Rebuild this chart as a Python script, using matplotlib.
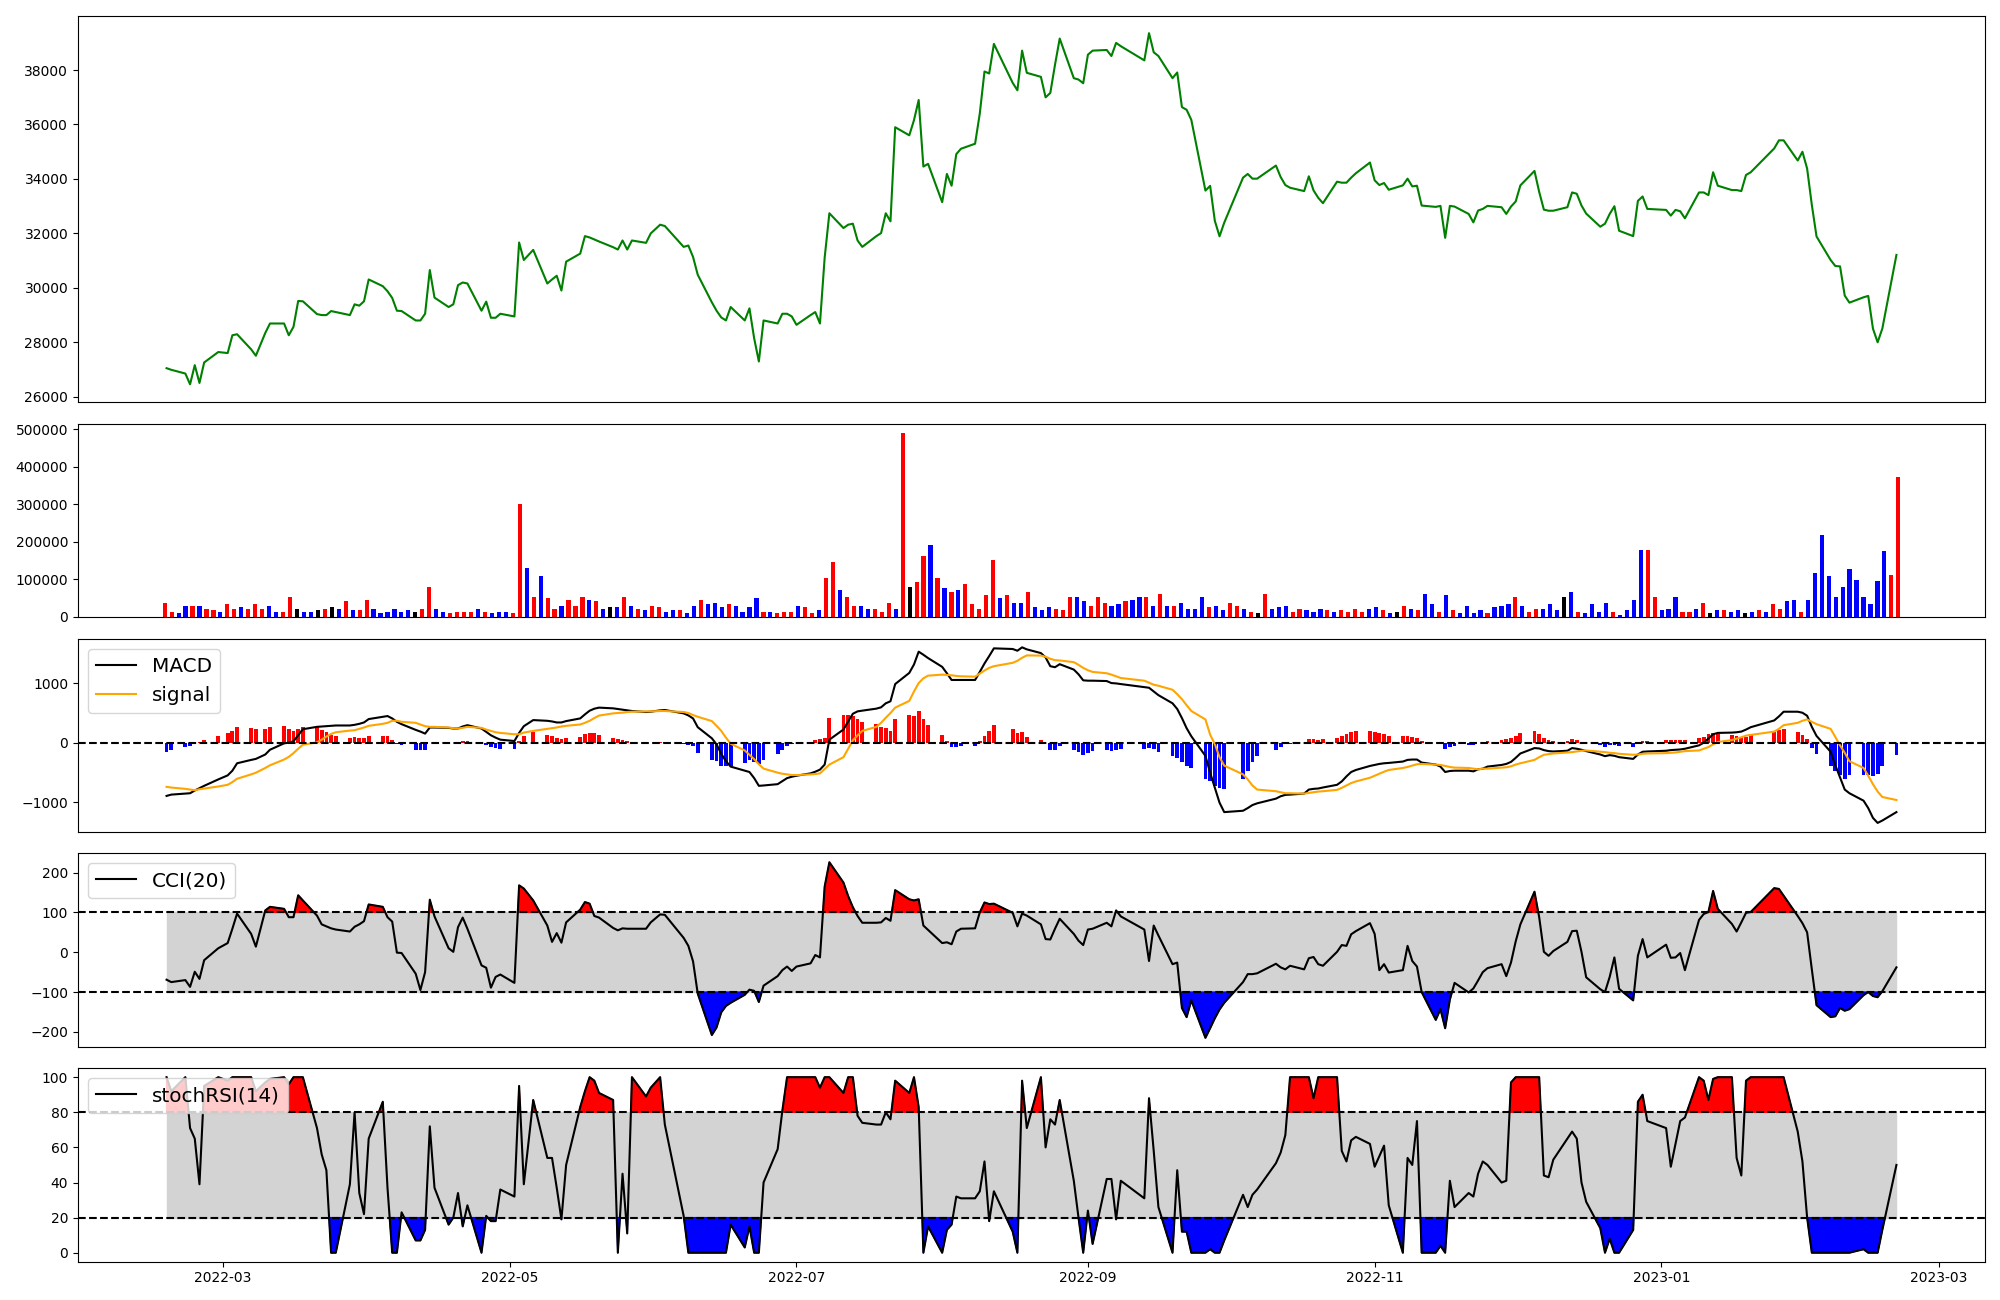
import numpy as np
import pandas as pd
import matplotlib
matplotlib.use("Agg")
import matplotlib.pyplot as plt
import matplotlib.dates as mdates

# ---------------- trading calendar ----------------
holidays = ["2022-03-01", "2022-03-09", "2022-05-05", "2022-06-01", "2022-06-06",
            "2022-08-15", "2022-09-09", "2022-09-12", "2022-10-03", "2022-10-10",
            "2022-12-30", "2023-01-23", "2023-01-24"]
dates = pd.bdate_range("2022-02-17", "2023-02-20")
dates = dates[~dates.isin(pd.to_datetime(holidays))]

# ---------------- data ----------------
close = [
    27045, 26986, 26848, 26453, 27157, 26502, 27255, 27638,
    27601, 28255, 28292, 27737, 27502, 28340, 28687, 28687, 28255, 28564, 29515, 29502,
    29033, 28996, 28996, 29144, 29107, 28996, 29391, 29342, 29502,
    30305, 30058, 29873, 29626, 29157, 29144, 28798, 28798, 29045, 30650, 29638, 29292,
    29391, 30095, 30194, 30157, 29157, 29490, 28897, 28897, 29045,
    28946, 31662, 31020, 31391, 30157, 30305, 30441, 29898, 30959, 31255, 31897, 31848,
    31774, 31700, 31490, 31404, 31737, 31404, 31737, 31650, 31996,
    32317, 32268, 31502, 31552, 31132, 30478, 29465, 29157, 28910, 28799, 29292, 28799,
    29243, 28144, 27292, 28799, 28687, 29045, 29045, 28947,
    28638, 28996, 29107, 28687, 31107, 32737, 32194, 32317, 32354, 31737, 31502, 31897,
    32008, 32737, 32441, 35898, 35601, 36157, 36897, 34453, 34552,
    33144, 34181, 33749, 34910, 35107, 35292, 36403, 37946, 37872, 38959, 37527, 37255,
    38712, 37897, 37749, 36996, 37157, 38193, 39156, 37700, 37650, 37514,
    38563, 38712, 38736, 38514, 38996, 38875, 38354, 39354, 38651, 38514, 37700, 37909,
    36637, 36539, 36168, 33570, 33743, 32459, 31891, 32391,
    34045, 34181, 34008, 34008, 34490, 34070, 33773, 33675, 33552, 34095, 33576, 33305,
    33107, 33897, 33860, 33860, 34045, 34206, 34601,
    33947, 33773, 33848, 33601, 33761, 34008, 33724, 33749, 33020, 32971, 33008, 31835,
    33008, 32983, 32712, 32403, 32836, 32897, 33008, 32959, 32712, 32983,
    33169, 33761, 34292, 33523, 32870, 32830, 32830, 32959, 33502, 33453, 33021, 32724,
    32243, 32354, 32712, 32996, 32095, 31897, 33193, 33354, 32897,
    32860, 32650, 32860, 32811, 32552, 33502, 33502, 33403, 34243, 33749, 33589, 33589,
    33552, 34144, 34243, 35119, 35416, 35416, 34675, 34996,
    34379, 33045, 31885, 31020, 30799, 30786, 29712, 29453, 29650, 29700, 28502, 27996,
    28502, 31206,
]

volume = [
    38000, 14000, 9000, 28000, 28000, 30000, 22000, 17000, 14000, 33000, 20000, 25000,
    20000, 33000, 22000, 30000, 12000, 14000, 54000, 22000, 12000, 14000, 17000, 20000,
    25000, 22000, 41000, 17000, 17000, 46000, 20000, 9000, 14000, 22000, 12000, 17000,
    12000, 22000, 78000, 22000, 12000, 9000, 14000, 14000, 14000, 22000, 12000, 9000,
    14000, 14000, 9000, 300000, 129000, 54000, 108000, 49000, 22000, 30000, 44000, 30000,
    52000, 46000, 41000,
    22000, 25000, 25000, 54000, 28000, 22000, 17000, 28000, 25000, 14000, 17000, 17000,
    9000, 28000, 44000, 33000, 38000, 25000, 33000, 30000, 12000, 25000, 49000, 14000,
    12000, 9000, 14000, 14000, 30000, 25000, 9000, 17000, 102000, 145000, 70000, 54000,
    30000, 30000, 22000, 20000, 12000, 36000, 22000, 490000, 78000, 92000, 161000, 190000,
    102000, 76000, 65000, 70000, 86000, 33000, 20000, 57000, 150000, 49000, 57000, 36000,
    36000, 65000, 25000,
    17000, 25000, 22000, 17000, 52000, 52000, 41000, 28000, 52000, 38000, 28000, 33000,
    41000, 44000, 52000, 54000, 30000, 60000, 28000, 30000, 38000, 20000, 22000, 52000,
    25000, 30000, 17000, 38000, 30000, 20000, 12000, 9000, 60000, 20000, 25000, 28000,
    14000, 20000, 17000, 14000, 20000, 17000, 12000, 17000, 14000, 22000, 14000, 20000,
    25000, 17000, 9000, 14000, 28000, 22000, 17000, 62000, 33000, 12000, 57000, 17000,
    9000, 30000, 9000, 17000,
    9000, 25000, 30000, 33000, 52000, 28000, 14000, 22000, 20000, 33000, 17000, 52000,
    65000, 12000, 9000, 33000, 12000, 36000, 12000, 6000, 17000, 44000, 177000, 177000,
    54000, 17000, 20000, 54000, 14000, 12000, 20000, 36000, 9000, 17000, 17000, 12000,
    17000, 9000, 12000, 17000, 14000, 33000, 22000, 41000, 46000, 14000, 46000, 116000,
    217000, 108000, 54000, 78000, 126000, 97000, 54000, 33000, 94000, 174000, 110000, 372000,
]

# U = close up, D = close down, N = unchanged (per trading day)
vol_move = (
    "UUDDUDUUDU" "UDUUUDDUUN" "DDNUNDUDUU" "DDDDDDNUUD" "DUUUUDUDDD" "UUDUDUUDUU" "UDU"
    "DNDUDUDUUD" "DUDDUDDDUD" "DDDUDUUUDU" "UDUUDUUDDU" "UUDUNUUDUD" "UDUUUUUDUD" "DUD"
    "DDUUUDDUUU" "DDUDDUDUDU" "DDDDUDDUUD" "UNUDDDUUDD" "DUDUUUUDDU" "DNUDUDDUDU" "DDDD"
    "UDDDUDUUDD" "DNDUDDDDUD" "DDDUUDDDUU" "DUNDUDDNDU" "DUUDDUDDDD" "DDDDDDDDUU"
)

macd = [
    -897, -875, -858, -852, -806, -767, -727, -619,
    -551, -472, -347, -290, -273, -199, -119, -11, 0, 23, 125, 227, 267, 273, 278, 284,
    290, 290, 301, 318, 341,
    398, 437, 449, 409, 352, 312, 216, 187, 153, 256, 256, 250, 239, 239, 273, 295, 239,
    182, 125, 85, 51,
    28, 165, 278, 381, 369, 358, 341, 341, 364, 409, 477, 539, 573, 591, 579, 568, 557,
    545, 534, 517, 522,
    545, 551, 494, 460, 409, 261, 74, -28, -188, -312, -403, -472, -494, -597, -727,
    -721, -699, -648, -597, -574,
    -557, -517, -489, -454, -369, 51, 222, 358, 488, 528, 540, 574, 596, 664, 698, 988,
    1176, 1318, 1534, 1482, 1426,
    1278, 1170, 1057, 1057, 1057, 1057, 1193, 1335, 1460, 1590, 1579, 1550, 1607, 1573,
    1510, 1437, 1289, 1272, 1323, 1232, 1153, 1051,
    1045, 1045, 1039, 1005, 999, 988, 937, 926, 863, 801, 664, 568, 415, 244, 108, -222,
    -506, -761, -1011, -1170,
    -1147, -1102, -1051, -1022, -943, -903, -880, -875, -858, -790, -778, -772, -755,
    -710, -653, -568, -494, -460, -392,
    -375, -358, -347, -341, -318, -290, -284, -284, -335, -369, -403, -494, -477, -472,
    -472, -483, -449, -438, -403, -375, -358, -324,
    -256, -182, -91, -97, -125, -142, -148, -136, -91, -102, -119, -142, -199, -227,
    -210, -221, -244, -273, -199, -153, -148,
    -136, -125, -119, -114, -102, -45, 0, 68, 142, 165, 170, 176, 187, 221, 261, 375,
    443, 522, 522, 505,
    454, 267, 114, -153, -380, -585, -790, -852, -977, -1102, -1267, -1352, -1312, -1170,
]

signal = [
    -744, -756, -778, -790, -801, -784, -773, -738,
    -710, -664, -608, -534, -506, -426, -381, -284, -239, -176, -102, -34, 6, 51, 102,
    148, 176, 204, 210, 233, 256,
    284, 318, 335, 369, 369, 352, 335, 307, 278, 267, 267, 256, 244, 239, 250, 267, 250,
    221, 199, 176, 165,
    142, 142, 170, 199, 233, 244, 256, 273, 284, 307, 335, 369, 415, 457, 494, 500, 506,
    517, 522, 528, 528,
    534, 534, 517, 500, 466, 437, 364, 284, 199, 85, -17, -131, -204, -278, -363, -437,
    -505, -523, -534, -545,
    -545, -534, -528, -517, -443, -369, -244, -102, 40, 125, 199, 267, 335, 420, 500,
    591, 704, 863, 1005, 1085, 1130,
    1147, 1142, 1136, 1125, 1119, 1113, 1164, 1216, 1261, 1289, 1346, 1380, 1431, 1471,
    1468, 1448, 1414, 1391, 1386, 1357, 1312, 1261,
    1221, 1193, 1170, 1147, 1119, 1090, 1045, 1011, 977, 960, 892, 818, 733, 631, 534,
    392, 136, -23, -244, -386,
    -534, -619, -721, -790, -818, -835, -852, -852, -858, -846, -835, -824, -818, -795,
    -761, -721, -681, -653, -591,
    -557, -522, -489, -460, -426, -409, -386, -363, -358, -369, -375, -392, -409, -420,
    -426, -437, -449, -438, -438, -420, -415, -398,
    -369, -347, -290, -244, -204, -193, -182, -165, -159, -148, -136, -131, -153, -159,
    -170, -176, -187, -204, -199, -187, -182,
    -176, -170, -165, -153, -142, -131, -102, -74, -28, 11, 45, 68, 91, 119, 131, 187,
    233, 295, 335, 369,
    392, 352, 312, 233, 97, -45, -170, -312, -426, -557, -699, -824, -915, -966,
]

cci = [
    -69, -75, -70, -87, -49, -67, -20, 10,
    23, 59, 97, 46, 14, 105, 114, 109, 88, 88, 143, 130, 92, 70, 65, 60, 57, 52, 64, 70, 78,
    120, 114, 88, 77, -1, -2, -54, -95, -50, 132, 90, 10, 1, 63, 87, 59, -33, -39, -89,
    -62, -56,
    -77, 168, 160, 130, 67, 26, 48, 24, 75, 107, 126, 122, 91, 87, 61, 55, 60, 59, 59, 59, 75,
    95, 94, 36, 16, -23, -104, -208, -189, -151, -135, -127, -107, -94, -97, -125, -84,
    -60, -45, -36, -47,
    -36, -28, -7, -13, 165, 226, 175, 141, 113, 91, 74, 74, 75, 86, 79, 156, 133, 130,
    133, 67, 56,
    23, 25, 20, 52, 59, 60, 100, 125, 121, 122, 99, 65, 97, 92, 70, 33, 32, 59, 84, 46, 29, 18,
    57, 59, 74, 65, 105, 90, 57, -22, 67, 42, -30, -26, -140, -163, -121, -215, -191,
    -166, -144, -127,
    -75, -55, -55, -53, -29, -38, -43, -34, -43, -15, -12, -30, -34, 1, 18, 16, 45, 53, 73,
    46, -45, -30, -51, -45, 16, -22, -36, -100, -170, -143, -191, -119, -77, -101, -91,
    -71, -50, -40, -30, -60, -26,
    27, 70, 152, 88, 1, -9, 3, 26, 53, 54, 1, -63, -93, -100, -62, -13, -92, -121, -9, 33, -13,
    19, -14, -13, -2, -45, 81, 96, 101, 154, 109, 71, 52, 75, 99, 101, 161, 159, 142, 91, 73,
    50, -43, -133, -163, -161, -140, -147, -143, -108, -100, -110, -113, -98, -38,
]

stoch_rsi = [
    100, 92, 100, 71, 65, 39, 95, 100,
    98, 100, 100, 100, 92, 97, 99, 100, 96, 100, 100, 100, 71, 56, 47, 0, 0, 39, 80, 34, 22,
    65, 86, 37, 0, 0, 23, 7, 7, 13, 72, 37, 16, 20, 34, 15, 27, 0, 21, 18, 18, 36,
    32, 95, 39, 87, 54, 54, 37, 19, 50, 83, 92, 100, 98, 91, 87, 0, 45, 11, 100, 89, 94,
    100, 73, 21, 0, 0, 0, 0, 0, 0, 0, 16, 3, 15, 0, 0, 40, 59, 81, 100, 100,
    100, 100, 100, 94, 100, 100, 91, 100, 100, 78, 74, 73, 73, 80, 76, 98, 91, 100, 83, 0, 15,
    0, 13, 16, 32, 31, 31, 35, 52, 18, 35, 12, 0, 98, 71, 100, 60, 76, 73, 87, 41, 20, 0,
    24, 5, 42, 42, 19, 41, 31, 88, 58, 26, 0, 47, 12, 12, 0, 0, 2, 0, 0, 7,
    33, 26, 33, 36, 51, 57, 67, 100, 100, 100, 88, 100, 100, 100, 58, 52, 64, 66, 62,
    49, 55, 61, 27, 0, 54, 50, 75, 0, 0, 4, 0, 41, 26, 34, 32, 45, 52, 50, 40, 41, 97,
    100, 100, 100, 100, 44, 43, 53, 65, 69, 65, 40, 29, 14, 0, 8, 0, 0, 13, 86, 90, 75,
    71, 49, 62, 75, 77, 100, 98, 87, 99, 100, 100, 54, 44, 98, 100, 100, 100, 100, 69, 52,
    20, 0, 0, 0, 0, 0, 0, 0, 2, 0, 0, 0, 13, 50,
]

# ---------------- derived ----------------
close = np.array(close, float)
volume = np.array(volume, float)
macd = np.array(macd, float)
signal = np.array(signal, float)
hist = macd - signal
cci = np.array(cci, float)
stoch_rsi = np.array(stoch_rsi, float)

move_color = {"U": "red", "D": "blue", "N": "black"}
vol_colors = [move_color[m] for m in vol_move]
hist_colors = ["red" if h >= 0 else "blue" for h in hist]

# ---------------- figure ----------------
fig = plt.figure(figsize=(20, 13), dpi=100)
gs = fig.add_gridspec(5, 1, height_ratios=[2, 1, 1, 1, 1], hspace=0.094,
                      left=0.039, right=0.9925, top=0.988, bottom=0.0296)
ax1 = fig.add_subplot(gs[0])
ax2 = fig.add_subplot(gs[1])           # volume drawn against the trading-day index
ax3 = fig.add_subplot(gs[2], sharex=ax1)
ax4 = fig.add_subplot(gs[3], sharex=ax1)
ax5 = fig.add_subplot(gs[4], sharex=ax1)

# price
ax1.plot(dates, close, color="green", lw=1.5)

# volume (evenly spaced, one slot per trading day)
idx = np.arange(len(volume))
ax2.bar(idx, volume, color=vol_colors, width=0.6)
n_last = len(volume) - 1
ax2.set_xlim(-0.05 * n_last, n_last * 1.05)
ax2.set_xticks([])

# MACD
ax3.bar(dates, hist, color=hist_colors, width=0.8)
ax3.plot(dates, macd, color="black", lw=1.5, label="MACD")
ax3.plot(dates, signal, color="orange", lw=1.5, label="signal")
ax3.axhline(0, color="black", ls="--", lw=1.5)
ax3.legend(loc="upper left", fontsize="x-large")

# CCI
ax4.fill_between(dates, -100, 100, color="lightgray")
ax4.fill_between(dates, cci, 100, where=cci >= 100, color="red", interpolate=True)
ax4.fill_between(dates, cci, -100, where=cci <= -100, color="blue", interpolate=True)
ax4.plot(dates, cci, color="black", lw=1.5, label="CCI(20)")
ax4.axhline(100, color="black", ls="--", lw=1.5)
ax4.axhline(-100, color="black", ls="--", lw=1.5)
ax4.legend(loc="upper left", fontsize="x-large")

# stochastic RSI
ax5.fill_between(dates, 20, 80, color="lightgray")
ax5.fill_between(dates, stoch_rsi, 80, where=stoch_rsi >= 80, color="red", interpolate=True)
ax5.fill_between(dates, stoch_rsi, 20, where=stoch_rsi <= 20, color="blue", interpolate=True)
ax5.plot(dates, stoch_rsi, color="black", lw=1.5, label="stochRSI(14)")
ax5.axhline(80, color="black", ls="--", lw=1.5)
ax5.axhline(20, color="black", ls="--", lw=1.5)
ax5.legend(loc="upper left", fontsize="x-large")

for ax in (ax1, ax3, ax4):
    ax.tick_params(axis="x", bottom=False, labelbottom=False)

ax5.xaxis.set_major_locator(mdates.MonthLocator(bymonth=[1, 3, 5, 7, 9, 11]))
ax5.xaxis.set_major_formatter(mdates.DateFormatter("%Y-%m"))

fig.savefig("out.png", dpi=100)
